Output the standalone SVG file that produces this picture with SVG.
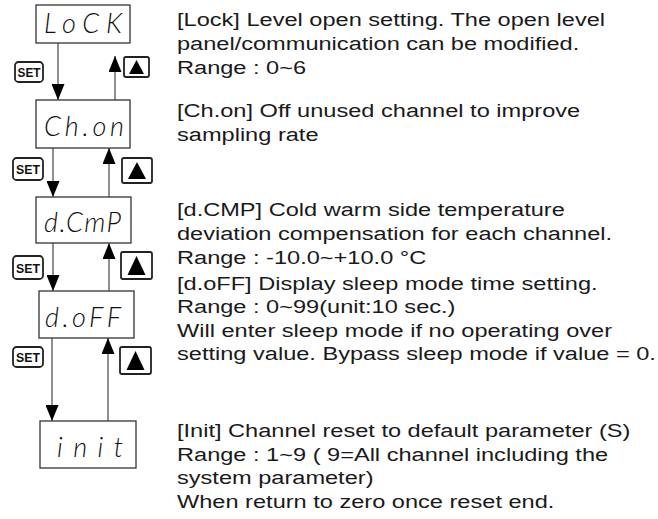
<svg xmlns="http://www.w3.org/2000/svg" width="658" height="519" viewBox="0 0 658 519">
<style>
.box{fill:#fff;stroke:#333;stroke-width:1.3}
.seg{font-family:Lato,"DejaVu Sans",sans-serif;font-weight:300;font-style:italic;font-size:27px;fill:#111}
.btn{fill:#fff;stroke:#222;stroke-width:1.8}
.set{font-family:"Liberation Sans",Arial,sans-serif;font-weight:bold;font-size:13px;fill:#111;text-anchor:middle}
.tri{fill:#000}
.con{stroke:#555;stroke-width:1.3;fill:none}
.desc{font-family:"Liberation Sans",Arial,sans-serif;font-size:18px;fill:#1a1a1a}
</style>
<defs>
<marker id="ah" viewBox="0 0 16 13" refX="16" refY="6.5" markerWidth="16" markerHeight="13" markerUnits="userSpaceOnUse" orient="auto">
<path d="M0,0 L16,6.5 L0,13 z" fill="#000"/>
</marker>
</defs>

<g id="connectors">
<line class="con" x1="58" y1="43" x2="58" y2="100" marker-end="url(#ah)"/>
<line class="con" x1="115" y1="100" x2="115" y2="56" marker-end="url(#ah)"/>
<line class="con" x1="53" y1="148" x2="53" y2="197" marker-end="url(#ah)"/>
<line class="con" x1="109" y1="197" x2="109" y2="148" marker-end="url(#ah)"/>
<line class="con" x1="53" y1="243" x2="53" y2="291" marker-end="url(#ah)"/>
<line class="con" x1="109" y1="291" x2="109" y2="243" marker-end="url(#ah)"/>
<line class="con" x1="52" y1="338" x2="52" y2="421" marker-end="url(#ah)"/>
<line class="con" x1="108" y1="421" x2="108" y2="338" marker-end="url(#ah)"/>
</g>

<g id="node-lock">
<rect class="box" x="36" y="5" width="94" height="38"/>
<text class="seg" x="44" y="33" textLength="78" lengthAdjust="spacing">LoCK</text>
</g>
<g id="node-chon">
<rect class="box" x="36" y="100" width="94" height="48"/>
<text class="seg" x="44" y="136" textLength="80" lengthAdjust="spacing">Ch.on</text>
</g>
<g id="node-dcmp">
<rect class="box" x="36" y="197" width="95" height="46"/>
<text class="seg" x="44" y="232" textLength="77" lengthAdjust="spacing">d.CmP</text>
</g>
<g id="node-doff">
<rect class="box" x="39" y="291" width="95" height="47"/>
<text class="seg" x="45" y="327" textLength="76" lengthAdjust="spacing">d.oFF</text>
</g>
<g id="node-init">
<rect class="box" x="40" y="421" width="96" height="47"/>
<text class="seg" x="57" y="457" textLength="66" lengthAdjust="spacing">init</text>
</g>

<g id="btn-set1">
<rect class="btn" x="15" y="62" width="28" height="20" rx="3.5"/>
<text class="set" x="29" y="77" textLength="23" lengthAdjust="spacingAndGlyphs">SET</text>
</g>
<g id="btn-up1">
<rect class="btn" x="124" y="57" width="25" height="20" rx="2"/>
<path class="tri" d="M136.5,60 L144,74 L129,74 z"/>
</g>
<g id="btn-set2">
<rect class="btn" x="13" y="158" width="30" height="22" rx="3.5"/>
<text class="set" x="28" y="174" textLength="24" lengthAdjust="spacingAndGlyphs">SET</text>
</g>
<g id="btn-up2">
<rect class="btn" x="122" y="158" width="30" height="25" rx="2"/>
<path class="tri" d="M137,162 L146,179 L128,179 z"/>
</g>
<g id="btn-set3">
<rect class="btn" x="13" y="256" width="30" height="23" rx="3.5"/>
<text class="set" x="28" y="272.5" textLength="24" lengthAdjust="spacingAndGlyphs">SET</text>
</g>
<g id="btn-up3">
<rect class="btn" x="121" y="252" width="31" height="27" rx="2"/>
<path class="tri" d="M136.5,256 L145.5,275 L127.5,275 z"/>
</g>
<g id="btn-set4">
<rect class="btn" x="13" y="347" width="30" height="20" rx="3.5"/>
<text class="set" x="28" y="362" textLength="24" lengthAdjust="spacingAndGlyphs">SET</text>
</g>
<g id="btn-up4">
<rect class="btn" x="120" y="347" width="31" height="27" rx="2"/>
<path class="tri" d="M135.5,351 L144.5,370 L126.5,370 z"/>
</g>

<g id="descriptions" transform="translate(177 0) scale(1.31 1)">
<text class="desc"><tspan x="0" y="26">[Lock] Level open setting. The open level</tspan><tspan x="0" y="50">panel/communication can be modified.</tspan><tspan x="0" y="74">Range : 0~6</tspan></text>
<text class="desc"><tspan x="0" y="117">[Ch.on] Off unused channel to improve</tspan><tspan x="0" y="141">sampling rate</tspan></text>
<text class="desc"><tspan x="0" y="216">[d.CMP] Cold warm side temperature</tspan><tspan x="0" y="240">deviation compensation for each channel.</tspan><tspan x="0" y="264">Range : -10.0~+10.0 °C</tspan></text>
<text class="desc"><tspan x="0" y="290">[d.oFF] Display sleep mode time setting.</tspan><tspan x="0" y="313">Range : 0~99(unit:10 sec.)</tspan><tspan x="0" y="337">Will enter sleep mode if no operating over</tspan><tspan x="0" y="360">setting value. Bypass sleep mode if value = 0.</tspan></text>
<text class="desc"><tspan x="0" y="437">[Init] Channel reset to default parameter (S)</tspan><tspan x="0" y="461">Range : 1~9 ( 9=All channel including the</tspan><tspan x="0" y="484">system parameter)</tspan><tspan x="0" y="508">When return to zero once reset end.</tspan></text>
</g>
</svg>
